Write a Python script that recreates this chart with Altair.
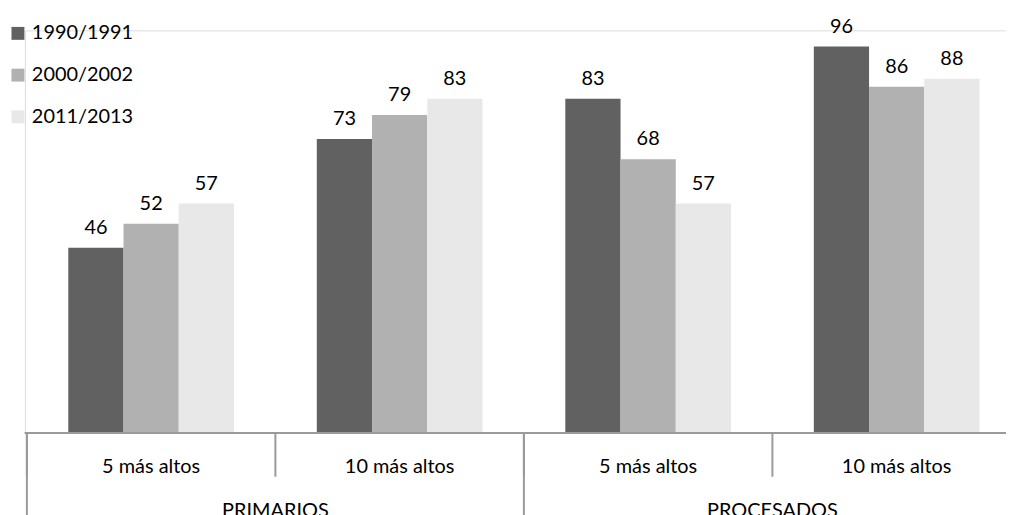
import altair as alt
import pandas as pd

groups = ["PRIMARIOS", "PRIMARIOS", "PROCESADOS", "PROCESADOS"]
subcats = ["5 más altos", "10 más altos", "5 más altos", "10 más altos"]
series = ["1990/1991", "2000/2002", "2011/2013"]
v_1990 = [46, 73, 83, 96]
v_2000 = [52, 79, 68, 86]
v_2011 = [57, 83, 57, 88]
colors = ["#616161", "#b1b1b1", "#e8e8e8"]

keys = [g + "|" + s for g, s in zip(groups, subcats)]
rows = []
for s, vals in zip(series, [v_1990, v_2000, v_2011]):
    for k, v in zip(keys, vals):
        rows.append({"key": k, "series": s, "value": v})
bars_df = pd.DataFrame(rows)
cats_df = pd.DataFrame({"key": keys, "group": groups, "sub": subcats})
first_df = cats_df.drop_duplicates("group")

W, H = 987, 405
FONT = "Lato"
FS = 20

xscale = alt.Scale(domain=keys, range=[2, 1002], paddingInner=0, paddingOuter=0)
x_enc = alt.X("key:N", scale=xscale, axis=None)
xoff = alt.XOffset("series:N", scale=alt.Scale(domain=series, paddingInner=0, paddingOuter=0.75))
yscale = alt.Scale(domain=[0, 100], nice=False)

bars = alt.Chart(bars_df).mark_bar().encode(
    x=x_enc,
    xOffset=xoff,
    y=alt.Y("value:Q", scale=yscale, axis=None),
    color=alt.Color(
        "series:N",
        scale=alt.Scale(domain=series, range=colors),
        legend=alt.Legend(
            title=None,
            orient="none",
            legendX=-17,
            legendY=-7,
            direction="vertical",
            symbolType="square",
            symbolSize=169,
            symbolStrokeWidth=0,
            labelFontSize=FS,
            labelFont=FONT,
            labelColor="#000000",
            labelOffset=4,
            rowPadding=22,
            padding=0,
        ),
    ),
)

labels = alt.Chart(bars_df).mark_text(
    baseline="alphabetic", dy=-14, fontSize=FS, font=FONT, color="#000000"
).encode(
    x=x_enc,
    xOffset=xoff,
    y=alt.Y("value:Q", scale=yscale, axis=None),
    text=alt.Text("value:Q"),
)

baseline_rule = alt.Chart(cats_df).mark_rule(color="#9a9a9a", strokeWidth=2).encode(
    x=alt.value(0), x2=alt.value(W), y=alt.value(H)
)

short_div = alt.Chart(cats_df).mark_rule(color="#9a9a9a", strokeWidth=2).encode(
    x=alt.X("key:N", scale=xscale, bandPosition=0, axis=None),
    y=alt.value(H - 1),
    y2=alt.value(H + 44),
)

long_div = alt.Chart(first_df).mark_rule(color="#9a9a9a", strokeWidth=2).encode(
    x=alt.X("key:N", scale=xscale, bandPosition=0, axis=None),
    y=alt.value(H - 1),
    y2=alt.value(H + 90),
)

sub_text = alt.Chart(cats_df).mark_text(
    baseline="alphabetic", fontSize=FS, font=FONT, color="#000000"
).encode(
    x=alt.X("key:N", scale=xscale, axis=None),
    y=alt.value(H + 40),
    text="sub:N",
)

grp_text = alt.Chart(first_df).mark_text(
    baseline="alphabetic", fontSize=FS, font=FONT, color="#000000"
).encode(
    x=alt.X("key:N", scale=xscale, bandPosition=1, axis=None),
    y=alt.value(H + 85),
    text="group:N",
)

chart = alt.layer(bars, labels, baseline_rule, short_div, long_div, sub_text, grp_text).properties(
    width=W,
    height=H,
    autosize=alt.AutoSizeParams(type="none"),
    padding={"left": 17, "top": 21, "right": 0, "bottom": 81},
).configure_view(stroke=None).configure(font=FONT, background="white")

chart.save("out.html", embed_options={"renderer": "svg", "actions": False})
